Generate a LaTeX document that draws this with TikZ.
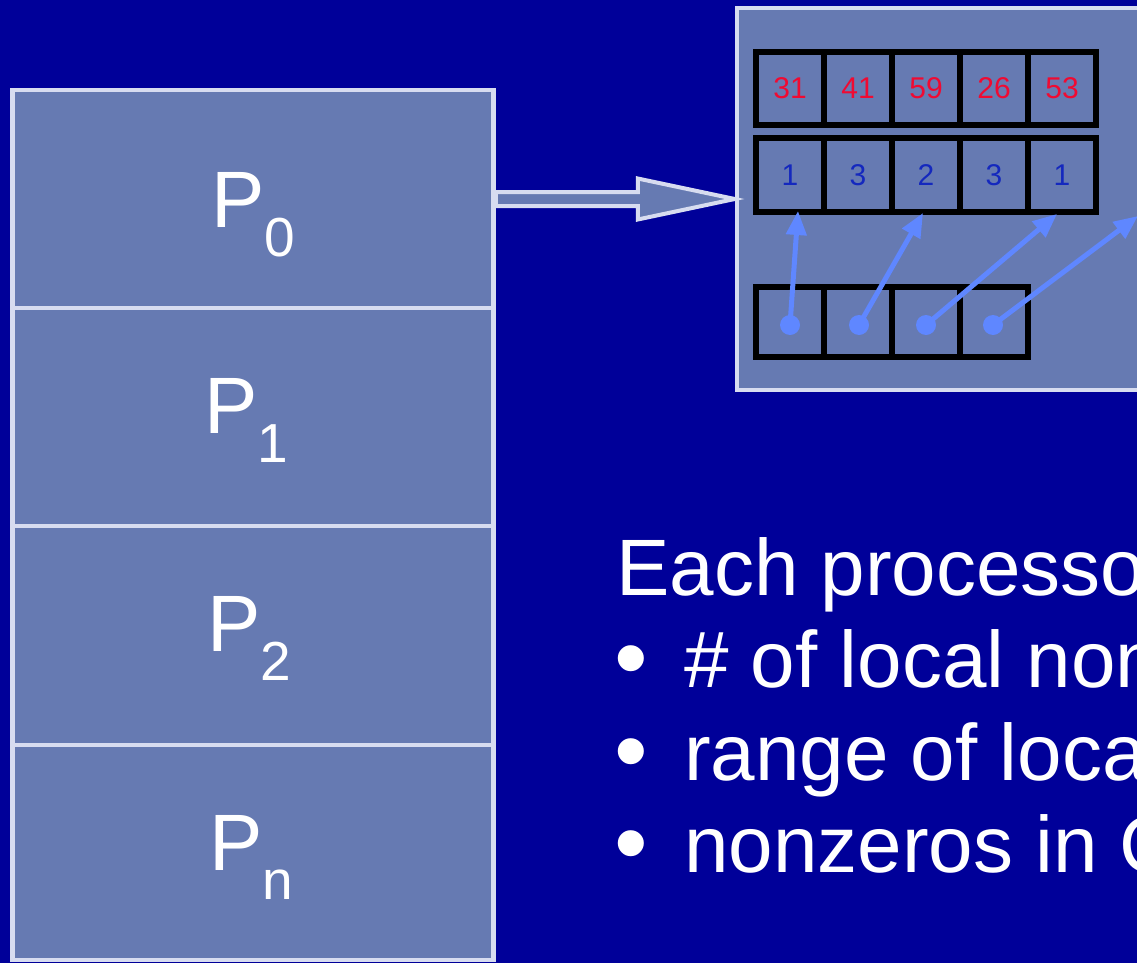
\documentclass[tikz,border=0pt]{standalone}
\usepackage{fontspec}
\setmainfont{Liberation Sans}
\usetikzlibrary{arrows.meta,calc}
\definecolor{bg}{RGB}{0,0,153}
\definecolor{boxfill}{RGB}{102,122,178}
\definecolor{boxline}{RGB}{215,220,240}
\definecolor{numred}{RGB}{240,10,50}
\definecolor{numblue}{RGB}{20,40,190}
\definecolor{ptr}{RGB}{95,135,255}
\begin{document}
\begin{tikzpicture}[x=1pt,y=-1pt,
  panel/.style={draw=boxline, fill=boxfill, line width=4.5pt},
  procbox/.style={panel, rectangle, minimum width=481pt, inner sep=0pt},
  plabel/.style={text=white, font=\fontsize{80}{96}\selectfont, inner sep=0pt, anchor=base west},
  cell/.style={draw=black, line width=5.5pt, minimum width=68pt, inner sep=0pt},
  rednum/.style={text=numred, font=\fontsize{30}{34}\selectfont},
  bluenum/.style={text=numblue, font=\fontsize{30}{34}\selectfont},
  ptrline/.style={draw=ptr, line width=5pt, -{Triangle[length=24pt,width=20pt]}},
  bodytext/.style={text=white, font=\fontsize{80}{96}\selectfont, inner sep=0pt, anchor=base west},
  bulletmark/.style={text=white, font=\fontsize{96}{110}\selectfont, inner sep=0pt, anchor=base}
]
\useasboundingbox (0,0) rectangle (1137,963);
\clip (0,0) rectangle (1137,963);
\fill[bg] (0,0) rectangle (1137,963);

% processor column
\node[procbox, minimum height=218pt] (p0) at (253,199) {};
\node[procbox, minimum height=218pt] (p1) at (253,417) {};
\node[procbox, minimum height=219pt] (p2) at (253,635.5) {};
\node[procbox, minimum height=215pt] (pn) at (253,852.5) {};

\node[plabel] (l0) at (211,227) {P\raisebox{-29pt}{\fontsize{55}{66}\selectfont 0}};
\node[plabel] (l1) at (204,433) {P\raisebox{-29pt}{\fontsize{55}{66}\selectfont 1}};
\node[plabel] (l2) at (207,651) {P\raisebox{-29pt}{\fontsize{55}{66}\selectfont 2}};
\node[plabel] (ln) at (209,870) {P\raisebox{-29pt}{\fontsize{55}{66}\selectfont n}};

% local data box
\node[panel, rectangle, minimum width=433pt, minimum height=382pt, inner sep=0pt] (rbox) at (953.5,199) {};

% hollow block arrow
\draw[panel, line width=4pt, line join=miter]
  ($(p0.east |- rbox.west)+(0,-7)$) -- ($(rbox.west)+(-97,-7)$) -- ($(rbox.west)+(-97,-20.5)$)
  -- (rbox.west) -- ($(rbox.west)+(-97,20.5)$) -- ($(rbox.west)+(-97,7)$)
  -- ($(p0.east |- rbox.west)+(0,7)$) -- cycle;

% values row
\foreach \v [count=\i] in {31,41,59,26,53}{
  \node[cell, minimum height=73pt, rednum] (c1\i) at ({722+68*\i},88.5) {\v};
}
% column index row
\foreach \v [count=\i] in {1,3,2,3,1}{
  \node[cell, minimum height=74pt, bluenum] (c2\i) at ({722+68*\i},175) {\v};
}
% row pointer row
\foreach \i in {1,...,4}{
  \node[cell, minimum height=70pt] (c3\i) at ({722+68*\i},322) {};
}

\coordinate (d1) at ($(c31)+(0,3)$);
\coordinate (d2) at ($(c32)+(1,3)$);
\coordinate (d3) at ($(c33)+(0,3)$);
\coordinate (d4) at ($(c34)+(-1,3)$);
\coordinate (t1) at (798,211);
\coordinate (t2) at (923,213);
\coordinate (t3) at (1057,214);
\coordinate (t4) at (1138,216);

\draw[ptrline] (d1) -- (t1);
\draw[ptrline] (d2) -- (t2);
\draw[ptrline] (d3) -- (t3);
\draw[ptrline] (d4) -- (t4);
\foreach \d in {d1,d2,d3,d4}{ \fill[ptr] (\d) circle (10); }

% text
\node[bodytext] (t0) at (616,595) {Each processor};
\node[bulletmark] (b1) at (631,690) {•};
\node[bulletmark] (b2) at (631,783) {•};
\node[bulletmark] (b3) at (631,875) {•};
\node[bodytext] (tx1) at (684,687) {\# of local non};
\node[bodytext] (tx2) at (684,780) {range of loca};
\node[bodytext] (tx3) at (684,872) {nonzeros in C};
\end{tikzpicture}
\end{document}
